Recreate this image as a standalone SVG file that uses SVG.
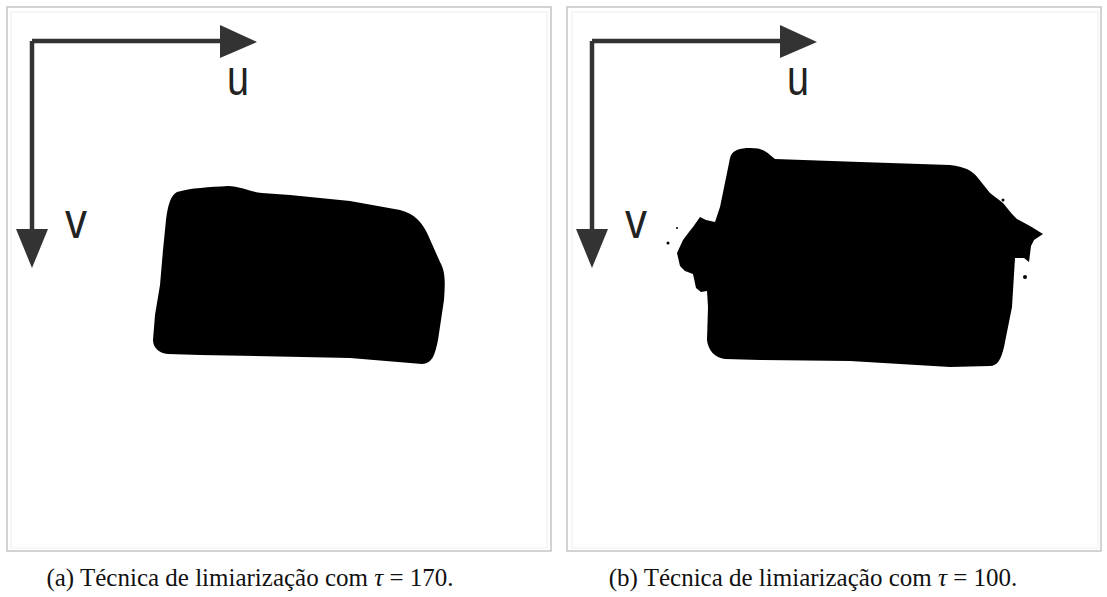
<svg xmlns="http://www.w3.org/2000/svg" width="1107" height="597" viewBox="0 0 1107 597">
<style>
.frame{fill:#fff;stroke:#c4c4c4;stroke-width:1.5}
.inner{fill:none;stroke:#eeeeee;stroke-width:1}
.axis{fill:none;stroke:#333;stroke-width:4.5}
.head{fill:#333}
.lbl{font-family:"Liberation Sans","DejaVu Sans",sans-serif;font-size:50px;fill:#222}
.cap{font-family:"Liberation Serif","DejaVu Serif",serif;font-size:25px;fill:#111}
.blob{fill:#000}
</style>
<rect width="1107" height="597" fill="#fff"/>
<g id="panel-a">
  <rect class="frame" x="7" y="7" width="544" height="544"/>
  <rect class="inner" x="11" y="12" width="536" height="536"/>
  <g id="axes-a">
    <path class="axis" d="M32,41 H224 M32,41 V232"/>
    <polygon class="head" points="220,25 257,42 220,58"/>
    <polygon class="head" points="16,229 48,229 32,268"/>
    <text class="lbl" x="227" y="95" textLength="22" lengthAdjust="spacingAndGlyphs">u</text>
    <text class="lbl" x="65" y="238" textLength="22" lengthAdjust="spacingAndGlyphs">v</text>
  </g>
  <path id="blob-a" class="blob" d="M177,192 C190,188 210,187 228,186 C240,186 250,192 262,193 L290,195 L350,201 L400,210 C415,214 422,222 428,235 L440,262 C446,272 445,285 444,300 L438,340 C435,355 432,364 422,364 L350,358 L200,355 L168,354 C158,353 153,347 153,340 L155,315 L160,285 L163,250 L166,220 C168,204 171,195 177,192 Z"/>
  <text class="cap" x="250" y="586" text-anchor="middle">(a) Técnica de limiarização com <tspan font-style="italic">τ</tspan> = 170.</text>
</g>
<g id="panel-b">
  <rect class="frame" x="567" y="7" width="534" height="544"/>
  <rect class="inner" x="572" y="12" width="526" height="536"/>
  <g id="axes-b">
    <path class="axis" d="M592,41 H784 M592,41 V232"/>
    <polygon class="head" points="780,25 817,42 780,58"/>
    <polygon class="head" points="576,229 608,229 592,268"/>
    <text class="lbl" x="787" y="95" textLength="22" lengthAdjust="spacingAndGlyphs">u</text>
    <text class="lbl" x="625" y="238" textLength="22" lengthAdjust="spacingAndGlyphs">v</text>
  </g>
  <g id="blob-b" class="blob">
    <path d="M730,158 C732,150 740,148 750,148 C760,148 765,150 770,155 L775,159 L860,162 L950,165 C965,167 972,170 978,178 L990,193 L1003,203 L1012,214 L1017,219 L1030,226 L1043,234 L1034,240 L1031,246 L1029,262 L1024,258 L1015,258 L1012,307 L1004,347 C1001,360 997,366 990,366 L950,367 L850,361 L760,360 L725,359 C715,358 708,350 707,340 L708,307 L707,291 L701,292 L696,288 L693,274 L685,271 L680,266 L677,253 L683,240 L689,232 L693,227 L700,217 L706,220 L715,222 L720,207 L727,173 Z"/>
    <circle cx="668" cy="243" r="1.5"/>
    <circle cx="677" cy="228" r="1"/>
    <circle cx="1025" cy="277" r="2"/>
    <circle cx="1003" cy="200" r="1.5"/>
  </g>
  <text class="cap" x="813" y="586" text-anchor="middle">(b) Técnica de limiarização com <tspan font-style="italic">τ</tspan> = 100.</text>
</g>
</svg>
